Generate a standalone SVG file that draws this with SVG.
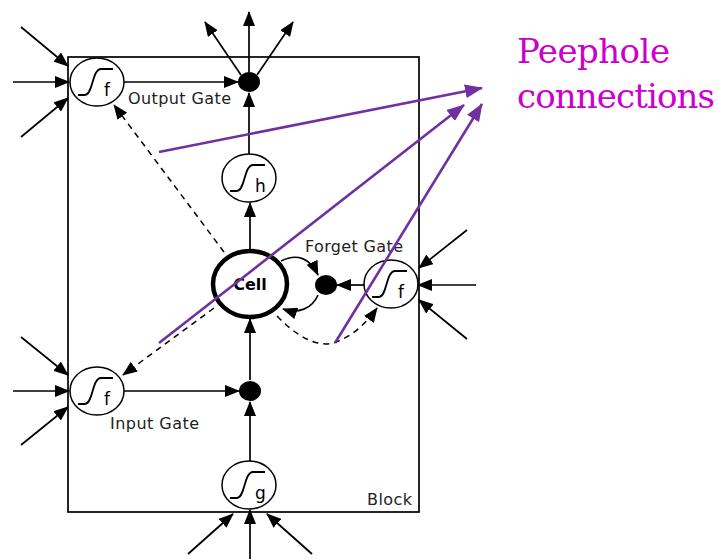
<svg xmlns="http://www.w3.org/2000/svg" width="718" height="559" viewBox="0 0 718 559">
  <defs>
    <marker id="ah" markerUnits="userSpaceOnUse" markerWidth="15" markerHeight="12" refX="14" refY="6" orient="auto">
      <path d="M0,0 L15,6 L0,12 Z" fill="#000"/>
    </marker>
    <marker id="ahp" markerUnits="userSpaceOnUse" markerWidth="18" markerHeight="14" refX="17" refY="7" orient="auto">
      <path d="M0,0 L18,7 L0,14 Z" fill="#7030a0"/>
    </marker>
    <path id="sig" d="M-17,13 H-10 C-2,13 -3,-13 6,-13 H18" fill="none" stroke="#000" stroke-width="1.8"/>
  </defs>
  <style>
    .arr { stroke: #000; stroke-width: 1.7; fill: none; marker-end: url(#ah); }
    .dash { stroke: #000; stroke-width: 1.5; fill: none; stroke-dasharray: 6 5; marker-end: url(#ah); }
    .unit { fill: #fff; stroke: #000; stroke-width: 1.5; }
    .dot { fill: #000; }
    .lbl { font-family: "DejaVu Sans", sans-serif; font-size: 16px; fill: #222; }
    .sub { font-family: "DejaVu Sans", sans-serif; font-size: 17px; fill: #000; }
    .peep { stroke: #7030a0; stroke-width: 2.6; fill: none; marker-end: url(#ahp); }
    .note { font-family: "DejaVu Serif", serif; font-size: 34px; fill: #cc00cc; }
  </style>

  <rect x="68" y="57" width="351" height="455" fill="none" stroke="#000" stroke-width="1.7"/>

  <g id="connectors">
    <!-- external inputs to output gate -->
    <line class="arr" x1="21" y1="27" x2="68" y2="66"/>
    <line class="arr" x1="13" y1="82" x2="69" y2="82"/>
    <line class="arr" x1="21" y1="137" x2="68" y2="98"/>
    <!-- external inputs to input gate -->
    <line class="arr" x1="21" y1="337" x2="68" y2="375"/>
    <line class="arr" x1="13" y1="391" x2="69" y2="391"/>
    <line class="arr" x1="21" y1="445" x2="68" y2="407"/>
    <!-- external inputs to forget gate -->
    <line class="arr" x1="467" y1="230" x2="419" y2="268"/>
    <line class="arr" x1="476" y1="285" x2="418" y2="285"/>
    <line class="arr" x1="467" y1="339" x2="419" y2="300"/>
    <!-- external inputs to g -->
    <line class="arr" x1="188" y1="554" x2="233" y2="514"/>
    <line class="arr" x1="250" y1="559" x2="250" y2="510"/>
    <line class="arr" x1="312" y1="554" x2="267" y2="514"/>
    <!-- outputs from block -->
    <line class="arr" x1="249" y1="72" x2="249" y2="12"/>
    <line class="arr" x1="241" y1="75" x2="205" y2="22"/>
    <line class="arr" x1="257" y1="75" x2="293" y2="22"/>
    <!-- internal flow -->
    <line class="arr" x1="124" y1="82" x2="238" y2="82"/>
    <line class="arr" x1="249" y1="154" x2="249" y2="93"/>
    <line class="arr" x1="250" y1="250" x2="250" y2="203"/>
    <line class="arr" x1="124" y1="391" x2="239" y2="391"/>
    <line class="arr" x1="250" y1="461" x2="250" y2="402"/>
    <line class="arr" x1="250" y1="380" x2="250" y2="319"/>
    <line class="arr" x1="365" y1="285" x2="337" y2="285"/>
    <path class="arr" d="M281,261 C297,253 310,258 318,275"/>
    <path class="arr" d="M318,295 C312,309 298,314 283,309"/>
    <!-- peepholes -->
    <line class="dash" x1="224" y1="252" x2="114" y2="105"/>
    <line class="dash" x1="214" y1="308" x2="123" y2="375"/>
    <path class="dash" d="M277,316 C298,338 318,347 333,343 C350,338 365,325 377,308"/>
  </g>

  <g id="block-label"><text class="lbl" x="367" y="505" textLength="45">Block</text></g>

  <g id="output-gate">
    <ellipse class="unit" cx="97" cy="82" rx="27" ry="24"/>
    <use href="#sig" x="95" y="82"/>
    <text class="sub" x="104" y="96">f</text>
    <text class="lbl" x="128" y="104" textLength="103">Output Gate</text>
  </g>
  <g id="output-mult"><ellipse class="dot" cx="249" cy="82" rx="11" ry="10"/></g>

  <g id="h-squash">
    <ellipse class="unit" cx="249" cy="178" rx="27" ry="24"/>
    <use href="#sig" x="247" y="178"/>
    <text class="sub" x="255" y="192">h</text>
  </g>

  <g id="cell">
    <ellipse cx="250" cy="284" rx="37" ry="33" fill="#fff" stroke="#000" stroke-width="4.5"/>
    <text x="250" y="290" text-anchor="middle" font-family="DejaVu Sans, sans-serif" font-weight="bold" font-size="16" fill="#000">Cell</text>
  </g>

  <g id="forget-mult"><ellipse class="dot" cx="326" cy="285" rx="11" ry="10"/></g>
  <g id="forget-gate">
    <ellipse class="unit" cx="391" cy="284" rx="27" ry="24"/>
    <use href="#sig" x="389" y="284"/>
    <text class="sub" x="398" y="298">f</text>
    <text class="lbl" x="305" y="252" textLength="98">Forget Gate</text>
  </g>

  <g id="input-gate">
    <ellipse class="unit" cx="97" cy="391" rx="27" ry="24"/>
    <use href="#sig" x="95" y="391"/>
    <text class="sub" x="104" y="405">f</text>
    <text class="lbl" x="110" y="429" textLength="89">Input Gate</text>
  </g>
  <g id="input-mult"><ellipse class="dot" cx="250" cy="391" rx="11" ry="10"/></g>

  <g id="g-squash">
    <ellipse class="unit" cx="249" cy="485" rx="27" ry="24"/>
    <use href="#sig" x="247" y="485"/>
    <text class="sub" x="255" y="499">g</text>
  </g>

  <g id="peephole-callout">
    <line class="peep" x1="159" y1="152" x2="482" y2="88"/>
    <line class="peep" x1="159" y1="343" x2="464" y2="105"/>
    <line class="peep" x1="335" y1="343" x2="482" y2="104"/>
    <text class="note" x="517" y="63" textLength="153">Peephole</text>
    <text class="note" x="517" y="108" textLength="198">connections</text>
  </g>
</svg>
